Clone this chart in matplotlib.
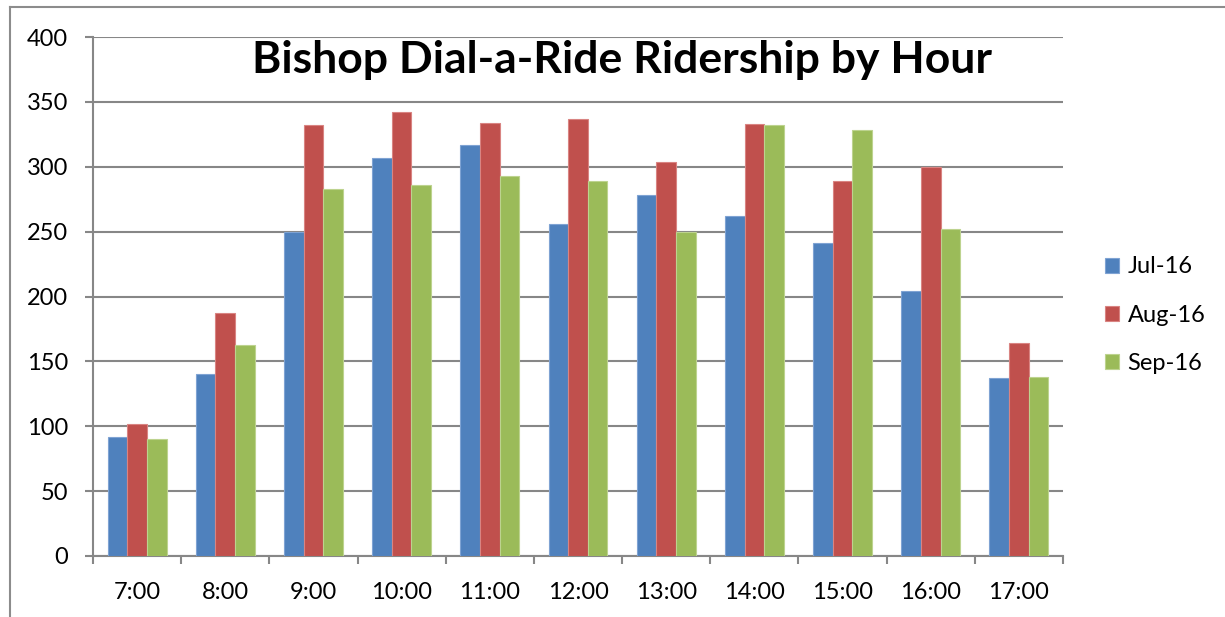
import matplotlib.pyplot as plt
import numpy as np
from matplotlib.lines import Line2D

hours = ['7:00', '8:00', '9:00', '10:00', '11:00', '12:00', '13:00', '14:00', '15:00', '16:00', '17:00']
jul_16 = [92, 140, 250, 307, 317, 256, 278, 262, 241, 204, 137]
aug_16 = [102, 187, 332, 342, 334, 337, 304, 333, 289, 300, 164]
sep_16 = [90, 163, 283, 286, 293, 289, 250, 332, 328, 252, 138]

series = [('Jul-16', jul_16, '#4F81BD', '#7FA3D3'),
          ('Aug-16', aug_16, '#C0504D', '#D98482'),
          ('Sep-16', sep_16, '#9BBB59', '#BDD38F')]

plt.rcParams['font.family'] = ['Lato', 'DejaVu Sans']

fig = plt.figure(figsize=(12.25, 6.17), dpi=100)
ax = fig.add_axes([93 / 1225, 61 / 617, 970 / 1225, 519 / 617])

x = np.arange(len(hours))
width = 0.223
for i, (name, vals, color, edge) in enumerate(series):
    ax.bar(x + (i - 1) * width, vals, width, color=color, edgecolor=edge,
           linewidth=0.8, label=name, zorder=3)

ax.set_xlim(-0.5, len(hours) - 0.5)
ax.set_ylim(0, 400)
ax.set_yticks(range(0, 401, 50))
ax.grid(axis='y', color='#878787', linewidth=1.5, zorder=0)

# category boundaries get the tick marks, labels sit in the middle
ax.set_xticks(np.arange(-0.5, len(hours), 1.0))
ax.set_xticklabels([])
ax.set_xticks(x, minor=True)
ax.set_xticklabels(hours, minor=True)
ax.tick_params(axis='x', which='major', length=6, width=1.5, color='#878787', direction='out')
ax.tick_params(axis='x', which='minor', length=0, pad=19, labelsize=17)
ax.tick_params(axis='y', length=6, width=1.5, color='#878787', labelsize=17, pad=12)

for side in ['top', 'right']:
    ax.spines[side].set_visible(False)
for side in ['left', 'bottom']:
    ax.spines[side].set_color('#878787')
    ax.spines[side].set_linewidth(1.5)

fig.text(622 / 1225, 1 - 60 / 617, 'Bishop Dial-a-Ride Ridership by Hour',
         ha='center', va='center', fontsize=32, fontweight='bold')

ax.legend(loc='center left', bbox_to_anchor=(1084 / 1225, 1 - 315 / 617),
          bbox_transform=fig.transFigure, frameon=False, fontsize=17,
          handlelength=0.6, handleheight=0.6, handletextpad=0.35, labelspacing=1.15)

# outer chart border
fig.add_artist(Line2D([10 / 1225, 10 / 1225], [0, 1 - 7 / 617], color='#8C8C8C', linewidth=1.5))
fig.add_artist(Line2D([10 / 1225, 1], [1 - 7 / 617, 1 - 7 / 617], color='#8C8C8C', linewidth=1.5))

fig.savefig('out.png', dpi=100)
